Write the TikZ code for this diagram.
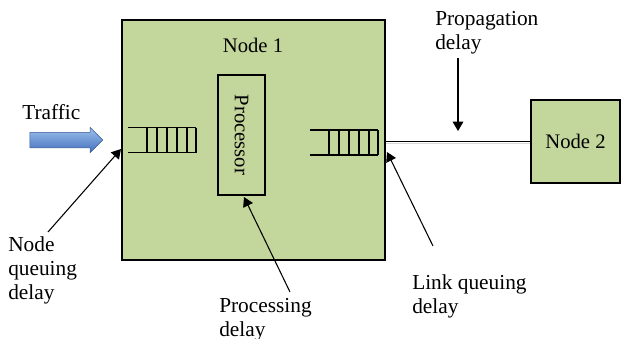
\documentclass[tikz,border=0pt]{standalone}
\usepackage{fontspec}
\setmainfont{Liberation Serif}
\usetikzlibrary{arrows.meta,shapes.arrows,positioning}

\definecolor{nodegreen}{RGB}{195,214,155}
\definecolor{traffictop}{RGB}{160,193,236}
\definecolor{trafficbot}{RGB}{66,112,190}

\tikzset{
  box/.style={draw,line width=1.3pt,fill=nodegreen,inner sep=0pt,font=\fontsize{15.5}{18}\selectfont},
  lbl/.style={font=\fontsize{16}{18}\selectfont,align=left,inner sep=0pt,anchor=north west},
  pointer/.style={line width=0.8pt,-{Triangle[length=7pt,width=8pt]}},
  pics/queue/.style={code={
    \draw[line width=1.4pt] (0,-12.5) -- (68,-12.5) (0,12.5) -- (68,12.5);
    \foreach \bx in {19,29,39,49,59,68}
      \draw[line width=1.4pt] (\bx,-12.5) -- (\bx,12.5);
  }}
}

\begin{document}
\begin{tikzpicture}[x=0.75pt,y=-0.75pt]
  \useasboundingbox (0,0) rectangle (621,339);

  % the two nodes and the processor
  \node[box,minimum width=197.25pt,minimum height=180pt] (n1) at (253.5,140) {};
  \node[font=\fontsize{15.5}{18}\selectfont] (n1lbl) at (253,45) {Node 1};
  \node[box,minimum width=66.75pt,minimum height=62.25pt] (n2) at (575.5,141.5) {Node 2};
  \node[box,rotate=-90,minimum width=90pt,minimum height=35.25pt] (proc) at (241.5,135) {Processor};

  % queues
  \pic at (128,140) {queue};
  \pic at (310,142.5) {queue};

  % link
  \draw[gray!30,line width=0.6pt] ([yshift=-1.6pt]n1.east |- n2.west) -- ([yshift=-1.6pt]n2.west);
  \draw[line width=1pt] (n1.east |- n2.west) -- (n2.west);

  % incoming traffic
  \node[single arrow,draw=trafficbot!80!black,line width=0.4pt,top color=traffictop,bottom color=trafficbot,
        minimum height=54.75pt,minimum width=18.75pt,single arrow head extend=3.75pt,
        inner xsep=0pt,inner ysep=5.6pt] (traffic) at (62.5,140) {};
  \node[lbl] (traflbl) at (22,104) {Traffic};

  % delay labels
  \node[lbl] (pdl) at (435,11) {Propagation\\delay};
  \node[lbl] (nqd) at (8,236) {Node\\queuing\\delay};
  \node[lbl] (prl) at (219,298) {Processing\\delay};
  \node[lbl] (lqd) at (412,274) {Link queuing\\delay};

  \coordinate (ptail) at (458,58);
  \coordinate (phead) at (458,131);
  \coordinate (nqtail) at (48,232);
  \coordinate (nqhead) at (121,149);
  \coordinate (prtail) at (290,292);
  \coordinate (prhead) at (244,197);
  \coordinate (lqtail) at (433,246);
  \coordinate (lqhead) at (387,152);

  \draw[pointer] (ptail) -- (phead);
  \draw[pointer] (nqtail) -- (nqhead);
  \draw[pointer] (prtail) -- (prhead);
  \draw[pointer] (lqtail) -- (lqhead);
\end{tikzpicture}
\end{document}
